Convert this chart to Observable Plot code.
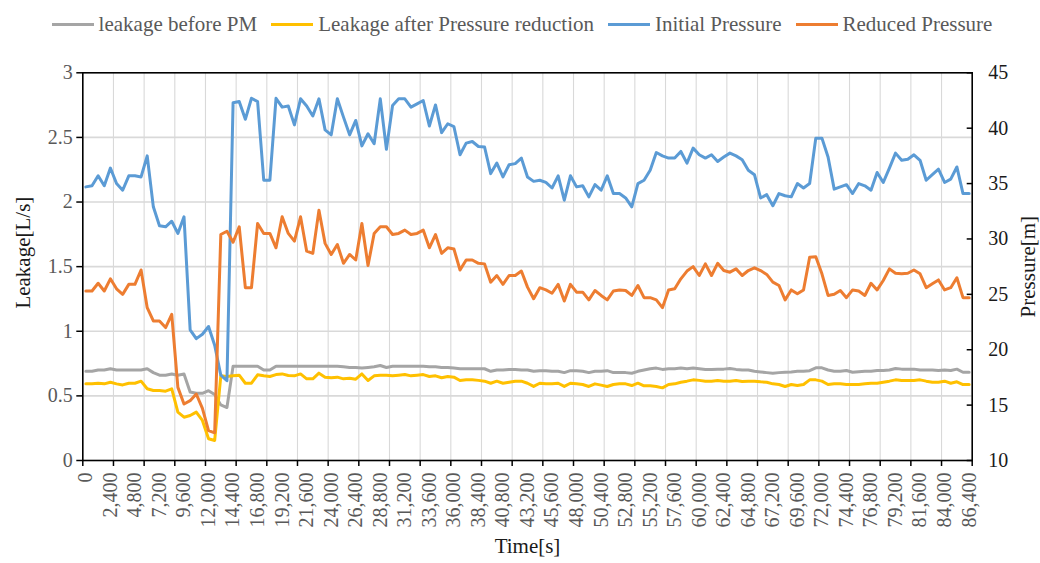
<!DOCTYPE html>
<html>
<head>
<meta charset="utf-8">
<script src="https://cdn.jsdelivr.net/npm/d3@7"></script>
<script src="https://cdn.jsdelivr.net/npm/@observablehq/plot@0.6"></script>
<style>
  html, body { margin: 0; padding: 0; background: #fff; }
  body { width: 1040px; height: 563px; overflow: hidden; font-family: "Liberation Serif", "Times New Roman", serif; }
  #legend { height: 40px; box-sizing: border-box; padding-top: 8px; display: flex; justify-content: center; align-items: center; padding-left: 4px; }
  .item { display: flex; align-items: center; margin: 0 7px; font-size: 21px; color: #595959; line-height: 32px; }
  .sw { width: 42px; height: 3px; margin-right: 5px; }
  #chart svg { display: block; }
</style>
</head>
<body>
<div id="legend"></div>
<div id="chart"></div>
<script>
// ---- data ----
const times = d3.range(0, 86401, 600); // category axis: one sample every 600 s

const leakBefore = [
  0.69,0.69,0.70,0.70,0.71,0.70,0.70,0.70,0.70,0.70,
  0.71,0.68,0.66,0.66,0.67,0.66,0.67,0.53,0.52,0.52,
  0.54,0.51,0.43,0.41,0.73,0.73,0.73,0.73,0.73,0.70,
  0.70,0.73,0.73,0.73,0.73,0.73,0.73,0.73,0.73,0.73,
  0.73,0.73,0.725,0.72,0.72,0.715,0.72,0.725,0.735,0.72,
  0.73,0.73,0.73,0.73,0.73,0.73,0.725,0.725,0.72,0.72,
  0.715,0.71,0.71,0.71,0.71,0.71,0.69,0.70,0.70,0.705,
  0.705,0.70,0.70,0.69,0.695,0.695,0.69,0.69,0.68,0.695,
  0.695,0.69,0.68,0.69,0.69,0.695,0.68,0.68,0.68,0.675,
  0.69,0.70,0.71,0.715,0.705,0.71,0.71,0.715,0.71,0.715,
  0.71,0.705,0.705,0.707,0.707,0.712,0.705,0.70,0.70,0.69,
  0.685,0.68,0.676,0.68,0.683,0.685,0.69,0.69,0.695,0.717,
  0.717,0.70,0.69,0.69,0.696,0.683,0.686,0.69,0.69,0.696,
  0.696,0.70,0.712,0.707,0.707,0.707,0.70,0.70,0.70,0.696,
  0.70,0.696,0.707,0.683,0.683
];

const leakAfter = [
  0.593,0.593,0.598,0.593,0.606,0.593,0.585,0.598,0.598,0.614,
  0.555,0.542,0.542,0.536,0.555,0.374,0.335,0.348,0.374,0.31,
  0.168,0.155,0.655,0.65,0.655,0.66,0.598,0.598,0.663,0.655,
  0.65,0.665,0.67,0.658,0.655,0.67,0.632,0.632,0.676,0.645,
  0.64,0.645,0.632,0.637,0.629,0.67,0.619,0.655,0.66,0.66,
  0.655,0.66,0.665,0.655,0.66,0.665,0.65,0.655,0.64,0.65,
  0.645,0.619,0.624,0.624,0.62,0.614,0.598,0.614,0.598,0.606,
  0.614,0.614,0.598,0.573,0.598,0.593,0.593,0.598,0.573,0.598,
  0.593,0.588,0.573,0.593,0.583,0.573,0.588,0.593,0.593,0.58,
  0.598,0.578,0.578,0.573,0.562,0.588,0.593,0.606,0.614,0.624,
  0.62,0.614,0.614,0.619,0.614,0.614,0.619,0.611,0.614,0.614,
  0.609,0.606,0.593,0.588,0.573,0.588,0.58,0.588,0.624,0.624,
  0.614,0.588,0.593,0.593,0.588,0.588,0.588,0.593,0.598,0.598,
  0.606,0.614,0.624,0.619,0.619,0.619,0.624,0.614,0.606,0.606,
  0.614,0.598,0.609,0.588,0.588
];

const initialPressure = [
  34.7,34.8,35.7,34.8,36.4,35.0,34.4,35.7,35.7,35.6,
  37.5,32.9,31.2,31.1,31.6,30.5,32.0,21.8,21.0,21.4,
  22.1,20.4,17.7,17.2,42.3,42.4,40.8,42.7,42.4,35.3,
  35.3,42.7,41.9,42.0,40.3,42.65,42.0,41.1,42.65,39.85,
  39.4,42.65,41.0,39.4,40.7,38.4,39.5,38.6,42.65,38.1,
  42.05,42.65,42.65,41.9,42.2,42.5,40.2,42.1,39.6,40.4,
  40.15,37.6,38.65,38.8,38.35,38.3,35.9,36.85,35.6,36.7,
  36.8,37.3,35.6,35.2,35.3,35.1,34.6,35.7,33.5,35.7,
  34.7,34.8,33.8,34.9,34.4,35.7,34.1,34.1,33.7,32.9,
  35.0,35.3,36.2,37.8,37.5,37.3,37.3,37.9,36.85,38.2,
  37.6,37.3,37.6,37.0,37.4,37.75,37.5,37.15,36.2,35.8,
  33.7,34.0,33.0,34.1,33.9,33.8,35.0,34.6,35.0,39.1,
  39.1,37.4,34.5,34.7,34.9,34.1,35.0,34.8,34.4,36.0,
  35.1,36.4,37.75,37.1,37.2,37.6,37.1,35.3,35.8,36.3,
  35.1,35.4,36.5,34.1,34.1
];

const reducedPressure = [
  25.3,25.3,26.0,25.3,26.4,25.5,25.0,25.9,25.9,27.2,
  23.8,22.6,22.6,22.0,23.2,16.6,15.1,15.4,16.0,14.7,
  12.7,12.5,30.4,30.7,29.7,31.1,25.6,25.6,31.4,30.5,
  30.5,29.2,32.0,30.5,29.8,32.0,28.9,28.7,32.6,29.6,
  28.6,29.5,27.8,28.6,28.1,31.4,27.6,30.5,31.1,31.1,
  30.4,30.5,30.8,30.4,30.5,30.8,29.2,30.4,28.7,29.2,
  29.1,27.2,28.1,28.1,27.8,27.75,26.1,26.7,25.9,26.7,
  26.7,27.1,25.65,24.6,25.6,25.4,25.1,25.9,24.4,25.9,
  25.2,25.2,24.5,25.35,24.9,24.5,25.3,25.4,25.35,24.9,
  25.8,24.7,24.7,24.5,23.8,25.4,25.5,26.4,27.1,27.5,
  26.7,27.75,26.7,27.8,27.15,27.0,27.3,26.7,27.15,27.4,
  27.15,26.8,26.1,25.8,24.5,25.4,25.05,25.4,28.35,28.4,
  26.85,24.9,25.0,25.35,24.7,25.4,25.3,24.9,26.0,25.4,
  26.25,27.3,26.9,26.85,26.9,27.2,26.85,25.6,25.95,26.3,
  25.4,25.6,26.5,24.7,24.7
];

const seriesNames = ["leakage before PM", "Leakage after Pressure reduction", "Initial Pressure", "Reduced Pressure"];
const seriesColors = ["#a5a5a5", "#ffc000", "#5b9bd5", "#ed7d31"];

const leftTicks = [0, 0.5, 1, 1.5, 2, 2.5, 3];
const rightTicks = [10, 15, 20, 25, 30, 35, 40, 45];
const xLabelTicks = [0,2400,4800,7200,9600,12000,14400,16800,19200,21600,24000,26400,28800,31200,
  33600,36000,38400,40800,43200,45600,48000,50400,52800,55200,57600,60000,62400,64800,67200,
  69600,72000,74400,76800,79200,81600,84000,86400];

const xTitle = "Time[s]";
const yLeftTitle = "Leakage[L/s]";
const yRightTitle = "Pressure[m]";

// ---- scales / helpers ----
const step = 600;                 // category spacing
const leftMax = 3, pMin = 10, pMax = 45;
const p2l = p => (p - pMin) * leftMax / (pMax - pMin);
const l2p = v => v * (pMax - pMin) / leftMax + pMin;
// Excel category axis: categories sit between tick marks, tick marks every 5 categories
const xDomain = [times[0] - step / 2, times[times.length - 1] + step / 2];
const slotTicks = d3.range(xDomain[0], xDomain[1] + 1, step * 5);

const rows = [];
times.forEach((t, i) => {
  rows.push({t, v: leakBefore[i], s: seriesNames[0]});
  rows.push({t, v: leakAfter[i], s: seriesNames[1]});
  rows.push({t, v: p2l(initialPressure[i]), s: seriesNames[2]});
  rows.push({t, v: p2l(reducedPressure[i]), s: seriesNames[3]});
});

// ---- legend ----
const legend = document.getElementById("legend");
seriesNames.forEach((n, i) => {
  const it = document.createElement("div");
  it.className = "item";
  const sw = document.createElement("div");
  sw.className = "sw";
  sw.style.background = seriesColors[i];
  const tx = document.createElement("span");
  tx.textContent = n;
  it.appendChild(sw); it.appendChild(tx);
  legend.appendChild(it);
});

const serif = "Liberation Serif, Times New Roman, serif";

const chart = Plot.plot({
  width: 1040,
  height: 523,
  marginTop: 32.3,
  marginBottom: 103,
  marginLeft: 82.3,
  marginRight: 68.3,
  style: {fontFamily: serif, fontSize: "20px", background: "white", overflow: "visible"},
  x: {domain: xDomain},
  y: {domain: [0, leftMax]},
  color: {domain: seriesNames, range: seriesColors},
  marks: [
    Plot.gridY(leftTicks.slice(1, -1), {stroke: "#d9d9d9", strokeOpacity: 1, strokeWidth: 1.6}),
    Plot.gridX(slotTicks.slice(1, -1), {stroke: "#d9d9d9", strokeOpacity: 1, strokeWidth: 1.1}),
    Plot.line(rows, {x: "t", y: "v", z: "s", stroke: "s", strokeWidth: 3, strokeLinejoin: "round", strokeLinecap: "round"}),
    Plot.frame({stroke: "black", strokeWidth: 1.6}),
    // left axis
    Plot.axisY(leftTicks, {anchor: "left", tickSize: 6, tickPadding: 4, stroke: "black", strokeWidth: 1.5,
      fill: "#595959", fontSize: 20, label: null, tickFormat: d => String(d)}),
    // right axis (pressure)
    Plot.axisY(rightTicks.map(p2l), {anchor: "right", tickSize: -6, tickPadding: 22, stroke: "black", strokeWidth: 1.5,
      fill: "#1a1a1a", fontSize: 20, label: null, tickFormat: v => String(Math.round(l2p(v)))}),
    // x tick marks (between categories)
    Plot.axisX(slotTicks, {anchor: "bottom", tickSize: 6, stroke: "black", strokeWidth: 1.5, tickFormat: () => "", label: null}),
    // x labels
    Plot.axisX(xLabelTicks, {anchor: "bottom", tickSize: 0, tickPadding: 12, tickRotate: -90,
      fill: "#595959", fontSize: 20, label: null, tickFormat: d3.format(",")}),
    // axis titles
    Plot.text([yLeftTitle], {frameAnchor: "left", dx: -60, dy: -14, rotate: -90, fontSize: 21, fill: "#1a1a1a", textAnchor: "middle"}),
    Plot.text([yRightTitle], {frameAnchor: "right", dx: 56, dy: 0, rotate: -90, fontSize: 21, fill: "#1a1a1a", textAnchor: "middle"}),
    Plot.text([xTitle], {frameAnchor: "bottom", dy: 92, fontSize: 21, fill: "#1a1a1a", textAnchor: "middle"})
  ]
});
document.getElementById("chart").appendChild(chart);
</script>
</body>
</html>
